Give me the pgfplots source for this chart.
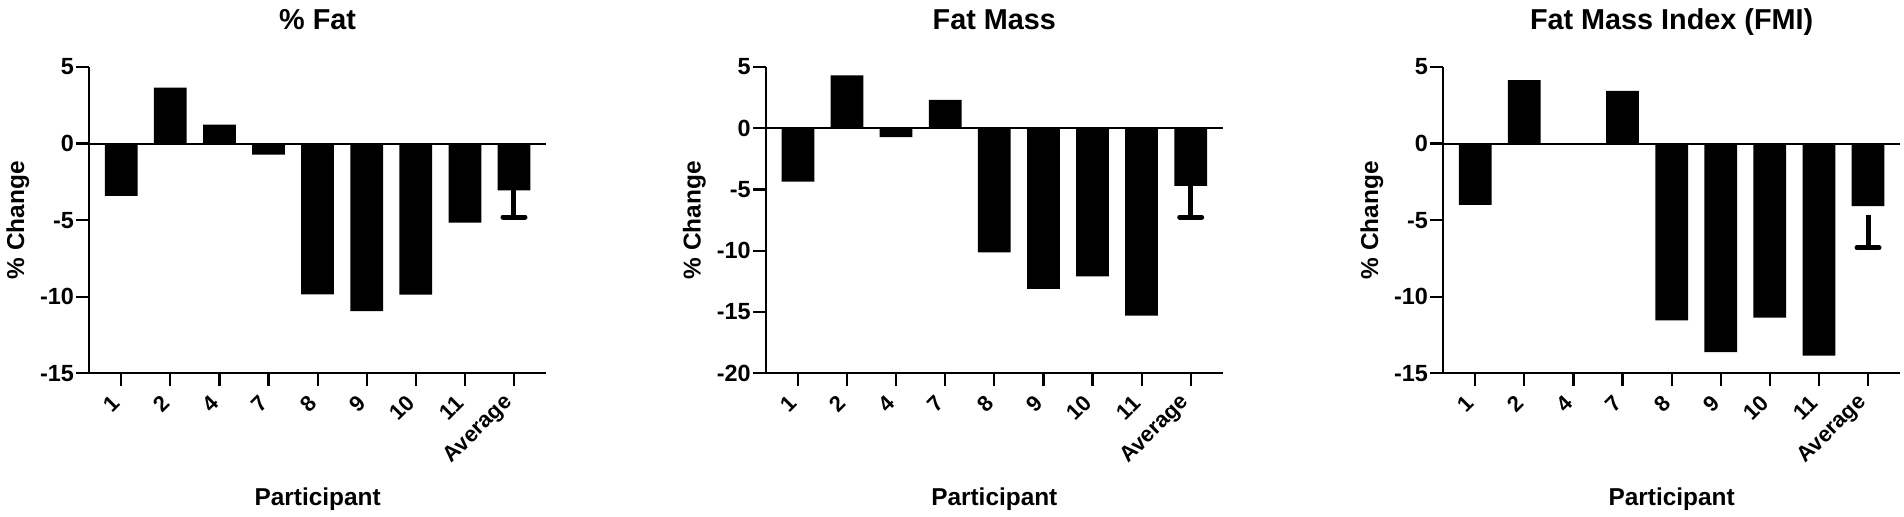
\documentclass[border=0pt]{standalone}
\usepackage{fontspec}
\setmainfont{Liberation Sans}
\usepackage{pgfplots}
\pgfplotsset{compat=1.18}
\pgfplotsset{
  every axis title shift=0pt,
  panel/.style={
    scale only axis, width=228.3pt, height=153.15pt,
    xmin=-0.65, xmax=8.65,
    axis lines*=left,
    axis line style={line width=1pt, black},
    tick style={line width=1.1pt, black},
    tick align=outside, major tick length=6.5pt,
    xtick={0,...,8}, xticklabels={1,2,4,7,8,9,10,11,Average},
    xticklabel shift=4pt,
    x tick label style={rotate=45, anchor=east, font=\bfseries\fontsize{11}{13}\selectfont},
    y tick label style={font=\bfseries\fontsize{11.7}{14}\selectfont, inner xsep=1pt},
    ylabel={\% Change}, xlabel={Participant},
    xlabel style={at={(axis description cs:0.5,-0.4332)}, anchor=base, font=\bfseries\fontsize{12.2}{14}\selectfont},
    ylabel style={at={(axis description cs:-0.143,0.5)}, anchor=base, rotate=0, font=\bfseries\fontsize{12.2}{14}\selectfont},
    title style={at={(axis description cs:0.5,1.1208)}, anchor=base, font=\bfseries\fontsize{14.4}{17}\selectfont},
    clip=false,
  },
  bars/.style={ybar, bar width=0.667, bar shift=0pt, fill=black, draw=none},
  errb/.style={black, mark=none, forget plot,
    error bars/.cd, y dir=minus, y explicit,
    error bar style={line width=2.5pt, black},
    error mark options={rotate=90, line width=2.5pt, mark size=5.5pt, line cap=round, black}},
  zline/.style={line width=1pt, black, forget plot},
}
\begin{document}
\begin{tikzpicture}
\path[use as bounding box] (0,0) rectangle (952pt,258.5pt);
% Panel 1
\begin{axis}[panel, at={(44.65pt,71.85pt)}, anchor=south west,
  title={\% Fat}, ymin=-15, ymax=5, ytick={-15,-10,-5,0,5},
  yticklabels={-15,-10,-5,0,5}]
\addplot[zline] coordinates {(-0.65,0) (8.65,0)};
\addplot[bars] coordinates {(0,-3.42) (1,3.66) (2,1.23) (3,-0.72) (4,-9.85) (5,-10.94) (6,-9.87) (7,-5.16) (8,-3.05)};
\addplot[errb] coordinates {(8,-3.05) -= (0,1.75)};
\end{axis}
% Panel 2
\begin{axis}[panel, at={(383pt,71.85pt)}, anchor=south west,
  title={Fat Mass}, ymin=-20, ymax=5, ytick={-20,-15,-10,-5,0,5},
  yticklabels={-20,-15,-10,-5,0,5}]
\addplot[zline] coordinates {(-0.65,0) (8.65,0)};
\addplot[bars] coordinates {(0,-4.35) (1,4.32) (2,-0.73) (3,2.31) (4,-10.14) (5,-13.12) (6,-12.09) (7,-15.3) (8,-4.7)};
\addplot[errb] coordinates {(8,-4.7) -= (0,2.55)};
\end{axis}
% Panel 3
\begin{axis}[panel, at={(721.65pt,71.85pt)}, anchor=south west,
  title={Fat Mass Index (FMI)}, ymin=-15, ymax=5, ytick={-15,-10,-5,0,5},
  yticklabels={-15,-10,-5,0,5}]
\addplot[zline] coordinates {(-0.65,0) (8.65,0)};
\addplot[bars] coordinates {(0,-4.01) (1,4.14) (2,0) (3,3.44) (4,-11.55) (5,-13.62) (6,-11.37) (7,-13.84) (8,-4.08)};
\addplot[errb] coordinates {(8,-4.69) -= (0,2.11)};
\end{axis}
\end{tikzpicture}
\end{document}
